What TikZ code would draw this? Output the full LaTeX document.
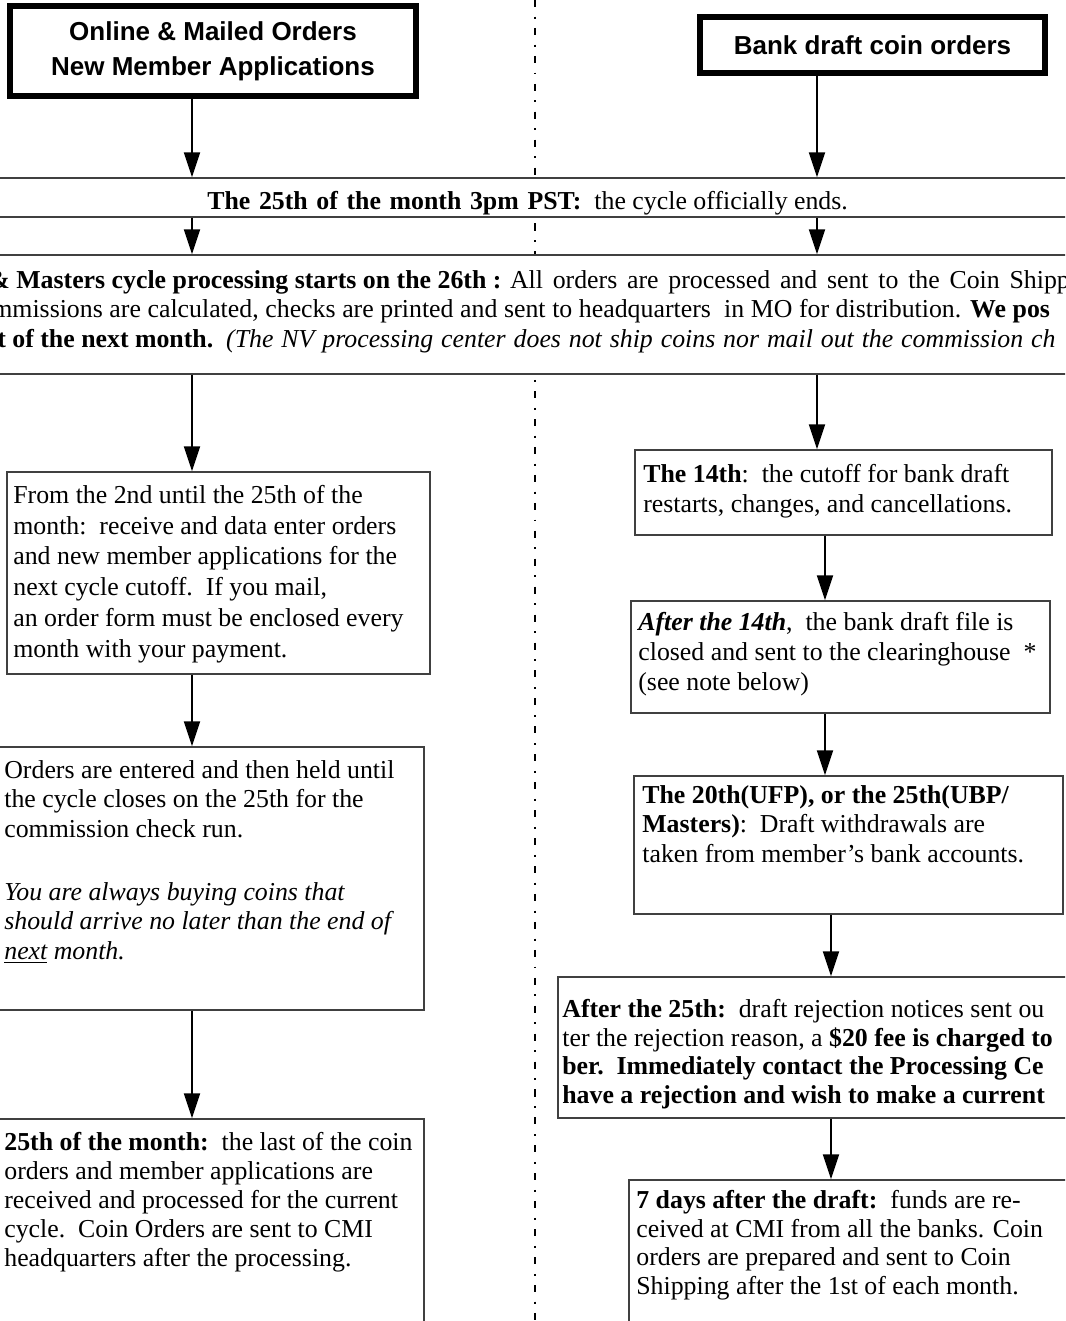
\documentclass[tikz,border=0pt]{standalone}
\usepackage{fontspec}
\setmainfont{Liberation Serif}
\newfontfamily\headfont{Liberation Sans}
\usetikzlibrary{arrows.meta,fit}

\tikzset{
  flow/.style={line width=1.2pt, -{Triangle[length=0.5cm,width=0.32cm]}},
  headbox/.style={draw, line width=3.4pt, align=center, inner sep=0pt, font=\headfont\bfseries\fontsize{14.8}{19.8}\selectfont},
  stepbox/.style={draw=black!75, line width=0.8pt, inner sep=0pt, fill=white},
  band/.style={draw=black!75, line width=0.8pt, inner sep=0pt, fill=white},
  txt/.style={anchor=north west, align=left, inner sep=0pt, font=\fontsize{14.7}{#1}\selectfont},
  txt/.default=17,
  bandline/.style={anchor=base west, inner sep=0pt, font=\fontsize{14.7}{17}\selectfont},
  divider/.style={line width=1.1pt, dash pattern=on 4pt off 5.5pt on 1.1pt off 5.3pt},
}

\begin{document}
\begin{tikzpicture}[x=0.02cm, y=-0.02cm]
        \useasboundingbox (0,0) rectangle (1065,1321);
        \clip (0,0) rectangle (1065,1321);
        \draw[divider] (535,0) -- (535,1321); % linea di separazione

        \coordinate (lc) at (192,0);
        \coordinate (rc) at (817,0);
        \coordinate (rd) at (825,0);
        \coordinate (re) at (831,0);

        % Intestazioni
        \node[headbox, minimum width=8.12cm, minimum height=1.8cm] (online) at (213,51) {Online \& Mailed Orders\\New Member Applications};
        \node[headbox, minimum width=6.9cm, minimum height=1.12cm] (bank) at (872.5,45) {Bank draft coin orders};

        % Fasce orizzontali
        \node[band, fit={(-10,178) (1075,217)}] (cutoff) {};
        \node[band, fit={(-10,255) (1075,374)}] (process) {};
        \node[bandline] (cutofftxt) at (207,210) {\makebox[213pt][s]{\textbf{The 25th of the month 3pm PST:}}\ \ the cycle officially ends.};
        \node[bandline] (proc1) at (-12,288) {\textbf{\& Masters cycle processing starts on the 26th :} \makebox[318.6pt][s]{All orders are processed and sent to the Coin Shipp}};
        \node[bandline] (proc2) at (-8,317) {\makebox[602pt][s]{mmissions are calculated, checks are printed and sent to headquarters\ \ in MO for distribution. \textbf{We pos}}};
        \node[bandline] (proc3) at (-3,347) {\textbf{t of the next month.}\ \ \makebox[472pt][s]{\itshape (The NV processing center does not ship coins nor mail out the commission ch}};

        % Colonna sinistra
        \node[stepbox, fit={(7,472) (430,674)}] (from2nd) {};
        \node[stepbox, fit={(-5,747) (424,1010)}] (entered) {};
        \node[stepbox, fit={(-5,1119) (424,1340)}] (last25) {};
        \node[txt=17.5] (from2ndtxt) at (13,481.4) {\strut From the 2nd until the 25th of the\\
          month:\ \ receive and data enter orders\\
          and new member applications for the\\
          next cycle cutoff.\ \ If you mail,\\
          an order form must be enclosed every\\
          month with your payment.};
        \node[txt=16.8] (enteredtxt) at (4,757.3) {\strut Orders are entered and then held until\\
          the cycle closes on the 25th for the\\
          commission check run.\\[19pt]
          \textit{You are always buying coins that}\\
          \textit{should arrive no later than the end of}\\
          \textit{\underline{next} month.}};
        \node[txt=16.6] (last25txt) at (4,1129.5) {\strut\textbf{25th of the month:}\ \ the last of the coin\\
          orders and member applications are\\
          received and processed for the current\\
          cycle.\ \ Coin Orders are sent to CMI\\
          headquarters after the processing.};

        % Colonna destra
        \node[stepbox, fit={(635,450) (1052,535)}] (cut14) {};
        \node[stepbox, fit={(631,601) (1050,713)}] (after14) {};
        \node[stepbox, fit={(634,776) (1063,914)}] (draft20) {};
        \node[stepbox, fit={(558,977) (1080,1118)}] (after25) {};
        \node[stepbox, fit={(629,1180) (1080,1340)}] (days7) {};
        \node[txt] (cut14txt) at (643,461) {\strut\textbf{The 14th}:\ \ the cutoff for bank draft\\
          restarts, changes, and cancellations.};
        \node[txt] (after14txt) at (638,609) {\strut\textbf{\textit{After the 14th}},\ \ the bank draft file is\\
          closed and sent to the clearinghouse\ \ *\\
          (see note below)};
        \node[txt=16.8] (draft20txt) at (642,782.3) {\strut\textbf{The 20th(UFP), or the 25th(UBP/}\\
          \textbf{Masters)}:\ \ Draft withdrawals are\\
          taken from member's bank accounts.};
        \node[txt=16.3] (after25txt) at (562,997) {\strut\textbf{After the 25th:}\ \ draft rejection notices sent ou\\
          ter the rejection reason, a \textbf{\$20 fee is charged to}\\
          \textbf{ber.\ \ Immediately contact the Processing Ce}\\
          \textbf{have a rejection and wish to make a current}};
        \node[txt=16.4] (days7txt) at (636,1187.75) {\strut\textbf{7 days after the draft:}\ \ funds are re-\\
          ceived at CMI from all the banks. Coin\\
          orders are prepared and sent to Coin\\
          Shipping after the 1st of each month.};

        % Frecce
        \draw[flow] (online.south -| lc) -- (cutoff.north -| lc);
        \draw[flow] (bank.south -| rc) -- (cutoff.north -| rc);
        \draw[flow] (cutoff.south -| lc) -- (process.north -| lc);
        \draw[flow] (cutoff.south -| rc) -- (process.north -| rc);
        \draw[flow] (process.south -| lc) -- (from2nd.north -| lc);
        \draw[flow] (from2nd.south -| lc) -- (entered.north -| lc);
        \draw[flow] (entered.south -| lc) -- (last25.north -| lc);
        \draw[flow] (process.south -| rc) -- (cut14.north -| rc);
        \draw[flow] (cut14.south -| rd) -- (after14.north -| rd);
        \draw[flow] (after14.south -| rd) -- (draft20.north -| rd);
        \draw[flow] (draft20.south -| re) -- (after25.north -| re);
        \draw[flow] (after25.south -| re) -- (days7.north -| re);
\end{tikzpicture}
\end{document}
